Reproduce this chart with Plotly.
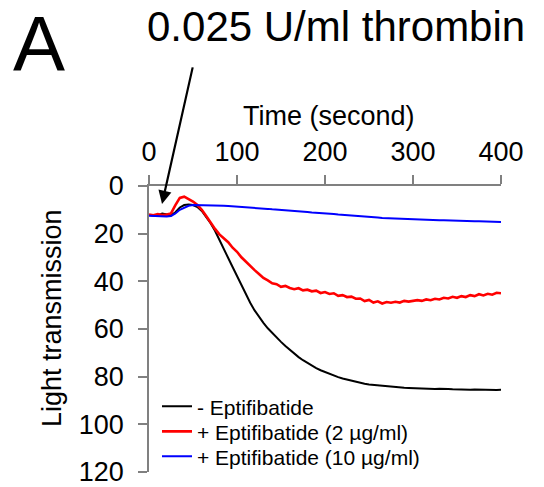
import plotly.graph_objects as go

# time grid (seconds), sampled every 5 s
time_s = list(range(0, 405, 5))

no_eptifibatide = [
    12.2, 12.3, 12.2, 11.6, 12.0, 12.3, 11.0, 9.0, 8.0, 7.8,
    8.0, 8.8, 10.5, 12.8, 15.6, 18.8, 22.4, 26.3, 30.2, 34.0,
    37.8, 41.5, 45.5, 49.0, 52.2, 55.0, 57.4, 59.7, 61.7, 63.6,
    65.4, 67.1, 68.8, 70.4, 71.8, 73.1, 74.3, 75.4, 76.4, 77.3,
    78.1, 78.9, 79.6, 80.2, 80.8, 81.3, 81.8, 82.2, 82.6, 83.0,
    83.3, 83.5, 83.8, 84.0, 84.1, 84.3, 84.5, 84.5, 84.7, 84.8,
    84.9, 85.0, 85.0, 85.1, 85.1, 85.2, 85.1, 85.3, 85.2, 85.3,
    85.4, 85.3, 85.4, 85.5, 85.4, 85.5, 85.6, 85.5, 85.5, 85.6,
    85.5,
]

eptifibatide_2 = [
    12.0, 12.3, 11.8, 12.2, 12.0, 11.5, 8.0, 5.0, 4.5, 5.5,
    6.5, 8.0, 10.0, 12.6, 15.4, 18.0, 20.3, 21.9, 23.6, 25.9,
    27.6, 29.9, 31.8, 33.4, 35.3, 36.9, 38.6, 39.6, 40.8, 41.2,
    42.3, 41.9, 42.8, 43.3, 42.9, 43.8, 43.5, 44.2, 43.9, 44.9,
    44.5, 45.3, 45.0, 46.1, 45.8, 46.6, 46.4, 47.3, 47.2, 48.3,
    47.8, 48.9, 48.4, 49.3, 48.7, 49.0, 48.6, 48.9, 48.2, 48.5,
    48.1, 47.9, 48.2, 47.6, 47.9, 47.3, 47.6, 46.9, 47.2, 46.5,
    46.9, 46.2, 46.6, 45.8, 46.2, 45.4, 45.9, 45.2, 45.6, 44.8,
    45.0,
]

eptifibatide_10 = [
    12.5, 12.6, 12.5, 12.7, 12.8, 12.6, 11.5, 10.0, 9.0, 8.3,
    8.0, 8.0, 8.0, 8.1, 8.1, 8.2, 8.2, 8.3, 8.4, 8.5,
    8.6, 8.7, 8.9, 9.0, 9.2, 9.3, 9.5, 9.6, 9.8, 9.9,
    10.0, 10.2, 10.3, 10.5, 10.6, 10.8, 10.9, 11.1, 11.2, 11.4,
    11.5, 11.7, 11.8, 12.0, 12.1, 12.3, 12.4, 12.6, 12.7, 12.9,
    13.0, 13.1, 13.2, 13.4, 13.5, 13.6, 13.7, 13.8, 13.9, 14.0,
    14.0, 14.1, 14.1, 14.2, 14.3, 14.3, 14.4, 14.4, 14.5, 14.5,
    14.6, 14.6, 14.7, 14.7, 14.8, 14.8, 14.9, 14.9, 15.0, 15.0,
    15.1,
]

series_names = ["- Eptifibatide", "+ Eptifibatide (2 µg/ml)", "+ Eptifibatide (10 µg/ml)"]
series_values = [no_eptifibatide, eptifibatide_2, eptifibatide_10]
series_colors = ["#000000", "#ff0000", "#0000ff"]
series_widths = [2, 2.6, 2]
legend_ids = ["legend", "legend2", "legend3"]
legend_rows_px = [406.7, 431.7, 456.7]

x_ticks = [0, 100, 200, 300, 400]
y_ticks = [0, 20, 40, 60, 80, 100, 120]

FONT = "Arial, Liberation Sans, sans-serif"
W, H = 544, 487
L, R, T, B = 149, 43, 186, 15
PW, PH = W - L - R, H - T - B

def px(xp):
    return (xp - L) / PW

def py(yp):
    return (H - B - yp) / PH

fig = go.Figure()
for name, vals, col, wd, lg in zip(series_names, series_values, series_colors,
                                   series_widths, legend_ids):
    fig.add_trace(go.Scatter(x=time_s, y=vals, mode="lines", name=name,
                             legend=lg, line=dict(color=col, width=wd)))

axis_common = dict(showgrid=False, zeroline=False, showline=True,
                   linecolor="#808080", linewidth=1.5, ticks="outside",
                   ticklen=9, tickwidth=1.5, tickcolor="#808080",
                   ticklabeloverflow="allow",
                   tickfont=dict(family=FONT, size=27, color="#000000"))

fig.update_xaxes(range=[0, 400], side="top", tickvals=x_ticks,
                 ticklabelstandoff=3, **axis_common)
fig.update_yaxes(range=[120, 0], tickvals=y_ticks,
                 ticklabelstandoff=9, **axis_common)

fig.add_annotation(text="A", xref="paper", yref="paper", x=px(39), y=py(44),
                   xanchor="center", yanchor="middle", showarrow=False,
                   font=dict(family=FONT, size=78, color="#000000"))
fig.add_annotation(text="0.025 U/ml thrombin", xref="paper", yref="paper",
                   x=px(336), y=py(27), xanchor="center", yanchor="middle",
                   showarrow=False, font=dict(family=FONT, size=42, color="#000000"))
fig.add_annotation(text="Time (second)", xref="paper", yref="paper",
                   x=px(329), y=py(116), xanchor="center", yanchor="middle",
                   showarrow=False, font=dict(family=FONT, size=27, color="#000000"))
fig.add_annotation(text="Light transmission", xref="paper", yref="paper",
                   x=px(52), y=py(318), xanchor="center", yanchor="middle",
                   textangle=-90, showarrow=False,
                   font=dict(family=FONT, size=27, color="#000000"))
fig.add_annotation(text="", x=14.8, y=7.5, xref="x", yref="y",
                   ax=31, ay=-138, showarrow=True, arrowhead=2,
                   arrowsize=1.2, arrowwidth=2.2, arrowcolor="#000000")

legend_layout = {}
for lg, row in zip(legend_ids, legend_rows_px):
    legend_layout[lg] = dict(x=px(157), y=py(row), xanchor="left", yanchor="middle",
                             bgcolor="rgba(0,0,0,0)",
                             font=dict(family=FONT, size=21, color="#000000"))

fig.update_layout(
    width=W, height=H,
    margin=dict(l=L, r=R, t=T, b=B, pad=0, autoexpand=False),
    paper_bgcolor="white", plot_bgcolor="white",
    showlegend=True,
    **legend_layout,
)

fig.write_html("out.html")
